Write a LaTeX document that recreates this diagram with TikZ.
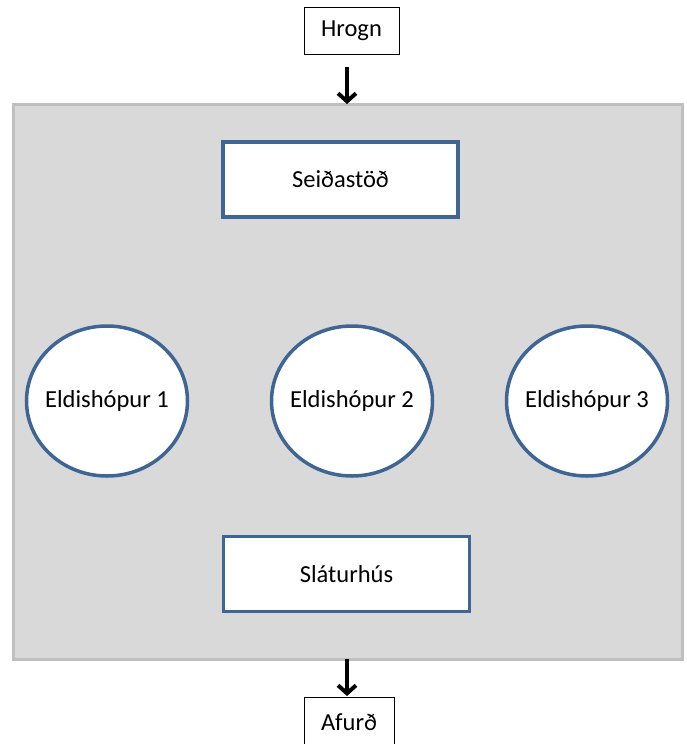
\documentclass[tikz,border=0pt]{standalone}
\usepackage{fontspec}
\setmainfont{Carlito}
\usetikzlibrary{shapes.geometric,arrows.meta}
\definecolor{framegray}{HTML}{BFBFBF}
\definecolor{panelgray}{HTML}{D9D9D9}
\definecolor{unitblue}{HTML}{3F6595}
\begin{document}
\begin{tikzpicture}[x=1pt,y=-1pt,
  every node/.style={font=\fontsize{24.5}{28}\selectfont, inner sep=0pt},
  every label/.style={font=\fontsize{24.5}{28}\selectfont, inner sep=0pt},
  flowbox/.style={draw=black, line width=1pt, fill=white},
  unitbox/.style={draw=unitblue, line width=3.5pt, fill=white},
  pond/.style={ellipse, draw=unitblue, line width=3.5pt, fill=white,
    minimum width=161pt, minimum height=150pt},
  flow/.style={-{Straight Barb[length=8pt,width=18pt]}, line width=4pt}]
\useasboundingbox (0,0) rectangle (686,744);
% farm area
\node[draw=framegray, fill=panelgray, line width=3pt, minimum width=669pt, minimum height=555pt] (farm) at (348,382) {};
% input and output
\node[flowbox, minimum width=95pt, minimum height=47pt] (hrogn) at (351.5,31) {Hrogn};
\node[flowbox, minimum width=90pt, minimum height=50pt] (afurd) at (349,722) {Afurð};
% units
\node[unitbox, minimum width=235pt, minimum height=75pt] (seid) at (340.5,179.5) {Seiðastöð};
\node[unitbox, minimum width=246pt, minimum height=75pt] (slatur) at (346.5,574) {Sláturhús};
\node[pond, label={center:Eldishópur 1}] (e1) at (107,401) {};
\node[pond, label={center:Eldishópur 2}] (e2) at (352,401) {};
\node[pond, label={center:Eldishópur 3}] (e3) at (587,401) {};
% arrows in and out
\coordinate (inTop) at (347,67);
\coordinate (inTip) at (347,104);
\coordinate (outTop) at (347,659);
\coordinate (outTip) at (347,696);
\draw[flow] (inTop) -- (inTip);
\draw[flow] (outTop) -- (outTip);
\end{tikzpicture}
\end{document}
